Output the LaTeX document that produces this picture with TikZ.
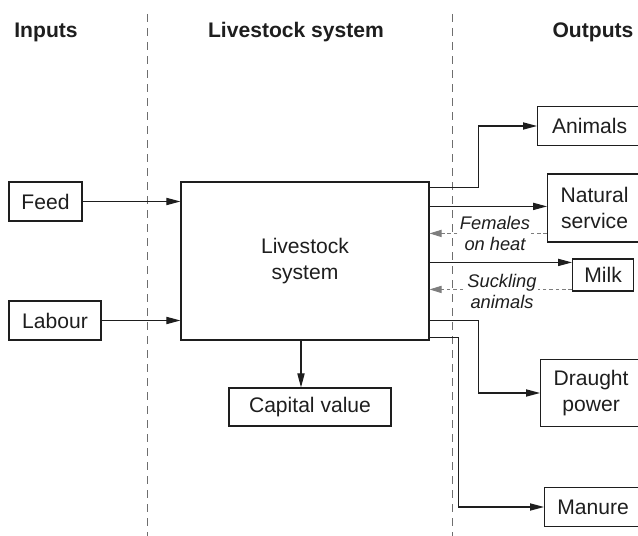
\documentclass[tikz,border=0pt]{standalone}
\usepackage{fontspec}
\setmainfont{Liberation Sans}
\usetikzlibrary{arrows.meta,positioning}
\definecolor{inkc}{RGB}{30,30,30}
\definecolor{sepc}{RGB}{110,110,110}
\definecolor{backc}{RGB}{125,125,125}

\begin{document}
\begin{tikzpicture}[x=0.025cm,y=-0.025cm,>={Triangle[length=3.5mm,width=1.8mm]},
  box/.style={draw=inkc,line width=0.8pt,inner sep=0pt,align=center,text=inkc,font=\fontsize{15}{18}\selectfont},
  hdr/.style={anchor=base,text=inkc,font=\fontsize{15}{18}\selectfont\bfseries},
  lbl/.style={fill=white,inner sep=1pt,align=center,text=inkc,font=\fontsize{13}{15}\selectfont\itshape},
  flow/.style={->,draw=inkc,line width=0.8pt},
  back/.style={-{Triangle[length=3mm,width=1.8mm]},draw=backc,line width=0.6pt,dash pattern=on 0.09cm off 0.07cm},
  sepline/.style={draw=sepc,line width=0.5pt,dash pattern=on 0.2cm off 0.15cm}]
\useasboundingbox (0,0) rectangle (638,536);
% column separators and headings
\draw[sepline] (147,14) -- (147,536);
\draw[sepline] (452,14) -- (452,536);
\node[hdr] (hin) at (46,38) {Inputs};
\node[hdr] (hsys) at (296,38) {Livestock system};
\node[hdr] (hout) at (593,38) {Outputs};
% inputs
\node[box,minimum width=1.825cm,minimum height=0.975cm] (feed) at (45.5,201.5) {Feed};
\node[box,minimum width=2.3cm,minimum height=0.975cm] (labour) at (55,320.5) {Labour};
% the system
\node[box,minimum width=6.2cm,minimum height=3.95cm] (main) at (305,261) {Livestock\\system};
\node[box,minimum width=4.05cm,minimum height=0.95cm] (capital) at (310,407) {Capital value};
% outputs (right edges run off the page)
\node[box,anchor=west,minimum width=2.6cm,minimum height=0.975cm] (animals) at (537,126) {Animals};
\node[box,anchor=west,minimum width=2.35cm,minimum height=1.7cm] (natural) at (547,208) {Natural\\service};
\node[box,anchor=west,minimum width=1.525cm,minimum height=0.8cm] (milk) at (572,275) {Milk};
\node[box,anchor=west,minimum width=2.525cm,minimum height=1.675cm] (draught) at (540,393) {Draught\\power};
\node[box,anchor=west,minimum width=2.425cm,minimum height=0.975cm] (manure) at (544,507) {Manure};
% points on the system box
\coordinate (oA) at ([yshift=-0.15cm]main.north east);
\coordinate (oN) at ([yshift=-0.625cm]main.north east);
\coordinate (iF) at ([yshift=-1.3cm]main.north east);
\coordinate (oM) at ([yshift=-2.025cm]main.north east);
\coordinate (iS) at ([yshift=-2.7cm]main.north east);
\coordinate (oD) at ([yshift=-3.475cm]main.north east);
\coordinate (oU) at ([yshift=-3.9cm]main.north east);
\coordinate (oC) at ([xshift=-0.1cm]main.south);
% flows in
\draw[flow] (feed.east) -- (feed.east -| main.west);
\draw[flow] (labour.east) -- (labour.east -| main.west);
% flows out
\draw[flow] (oA) -- ++(49,0) |- (animals.west);
\draw[flow] (oN) -- (oN -| natural.west);
\draw[flow] (oM) -- (oM -| milk.west);
\draw[flow] (oD) -- ++(49,0) |- (draught.west);
\draw[flow] (oU) -- ++(29,0) |- (manure.west);
\draw[flow] (oC) -- (oC |- capital.north);
% feedback (dashed)
\draw[back] (iF -| natural.west) -- (iF);
\draw[back] (iS -| milk.west) -- (iS);
\node[lbl] (fem) at (495,233.5) {Females\\on heat};
\node[lbl] (suck) at (502,291.5) {Suckling\\animals};
\end{tikzpicture}
\end{document}
